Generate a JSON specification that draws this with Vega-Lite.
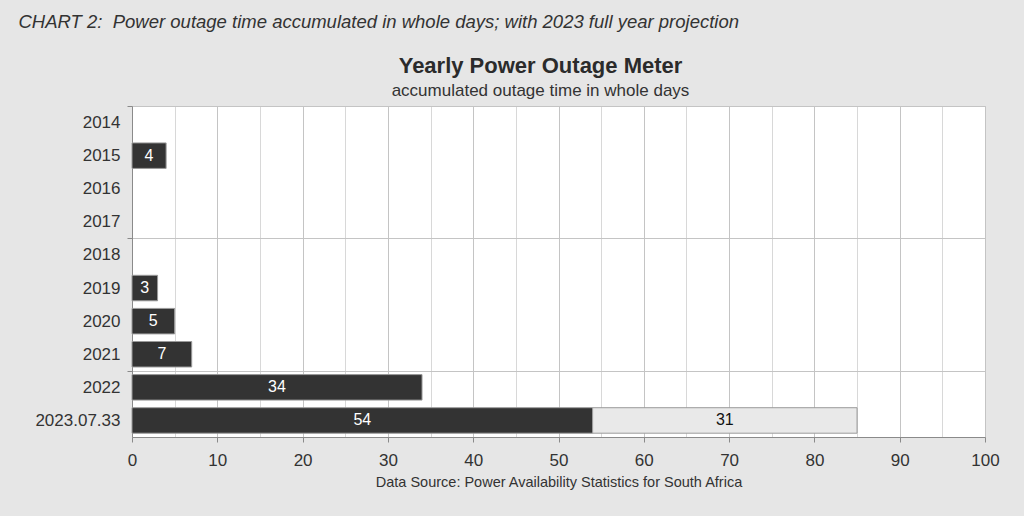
{
  "$schema": "https://vega.github.io/schema/vega-lite/v6.json",
  "width": 853,
  "height": 331,
  "autosize": {"type": "none"},
  "padding": {"left": 132, "top": 106, "right": 39, "bottom": 79},
  "background": "#e6e6e6",
  "title": {
    "text": "Yearly Power Outage Meter",
    "subtitle": "accumulated outage time in whole days",
    "anchor": "middle",
    "frame": "group",
    "dx": -18,
    "offset": -87,
    "font": "Liberation Sans",
    "fontSize": 22,
    "fontWeight": "bold",
    "color": "#2b2b2b",
    "subtitleFont": "Liberation Sans",
    "subtitleFontSize": 17,
    "subtitleColor": "#333333",
    "subtitlePadding": 5
  },
  "data": {
    "values": [
      {"year": "2015", "days": 4, "type": "actual"},
      {"year": "2019", "days": 3, "type": "actual"},
      {"year": "2020", "days": 5, "type": "actual"},
      {"year": "2021", "days": 7, "type": "actual"},
      {"year": "2022", "days": 34, "type": "actual"},
      {"year": "2023.07.33", "days": 54, "type": "actual"},
      {"year": "2023.07.33", "days": 31, "type": "projection"}
    ]
  },
  "encoding": {
    "y": {
      "field": "year",
      "type": "nominal",
      "scale": {
        "domain": ["2014", "2015", "2016", "2017", "2018", "2019", "2020", "2021", "2022", "2023.07.33"],
        "paddingInner": 0,
        "paddingOuter": 0
      },
      "axis": {
        "title": "CHART 2:\u00a0 Power outage time accumulated in whole days; with 2023 full year projection",
        "titleAngle": 0,
        "titleAlign": "left",
        "titleBaseline": "alphabetic",
        "titleX": -114,
        "titleY": -78.5,
        "titleFont": "Liberation Sans",
        "titleFontSize": 18.5,
        "titleFontStyle": "italic",
        "titleFontWeight": "normal",
        "titleColor": "#333333",
        "tickBand": "extent",
        "tickSize": 5,
        "tickColor": "#8a8a8a",
        "tickOpacity": {"condition": {"test": "datum.extra || datum.value === '2017' || datum.value === '2021'", "value": 1}, "value": 0},
        "grid": true,
        "gridColor": "#c4c4c4",
        "gridOpacity": {"condition": {"test": "datum.extra || datum.value === '2017' || datum.value === '2021'", "value": 1}, "value": 0},
        "labelFont": "Liberation Sans",
        "labelFontSize": 17,
        "labelColor": "#333333",
        "labelPadding": 7,
        "domainColor": "#8a8a8a"
      }
    }
  },
  "layer": [
    {
      "mark": {"type": "bar", "height": {"band": 0.77}, "stroke": "#9a9a9a", "strokeWidth": 1},
      "encoding": {
        "x": {
          "field": "days",
          "type": "quantitative",
          "stack": "zero",
          "scale": {"domain": [0, 100], "nice": false, "zero": true},
          "axis": {
            "values": [0, 5, 10, 15, 20, 25, 30, 35, 40, 45, 50, 55, 60, 65, 70, 75, 80, 85, 90, 95, 100],
            "labelExpr": "datum.value % 10 === 0 ? datum.label : ''",
            "title": "Data Source: Power Availability Statistics for South Africa",
            "titleFont": "Liberation Sans",
            "titleFontSize": 14.5,
            "titleFontWeight": "normal",
            "titleColor": "#333333",
            "titlePadding": 7,
            "labelFont": "Liberation Sans",
            "labelFontSize": 17,
            "labelColor": "#333333",
            "labelPadding": 10,
            "labelFlush": false,
            "labelOverlap": false,
            "tickSize": 5,
            "tickColor": "#8a8a8a",
            "tickOpacity": {"condition": {"test": "datum.value % 10 === 0", "value": 1}, "value": 0},
            "domainColor": "#8a8a8a",
            "grid": true,
            "gridColor": {"condition": {"test": "datum.value % 10 === 0", "value": "#c4c4c4"}, "value": "#d8d8d8"}
          }
        },
        "color": {
          "field": "type",
          "type": "nominal",
          "scale": {"domain": ["actual", "projection"], "range": ["#333333", "#e9e9e9"]},
          "legend": null
        },
        "order": {"field": "type", "sort": "ascending"}
      }
    },
    {
      "mark": {"type": "text", "font": "Liberation Sans", "fontSize": 16},
      "encoding": {
        "x": {
          "field": "days",
          "type": "quantitative",
          "stack": "zero",
          "bandPosition": 0.5,
          "scale": {"domain": [0, 100], "nice": false, "zero": true}
        },
        "detail": {"field": "type"},
        "order": {"field": "type", "sort": "ascending"},
        "text": {"field": "days", "type": "quantitative"},
        "color": {"condition": {"test": "datum.type === 'projection'", "value": "#111111"}, "value": "#ffffff"}
      }
    }
  ],
  "config": {
    "font": "Liberation Sans",
    "view": {"fill": "#ffffff", "stroke": "#c4c4c4"}
  }
}
